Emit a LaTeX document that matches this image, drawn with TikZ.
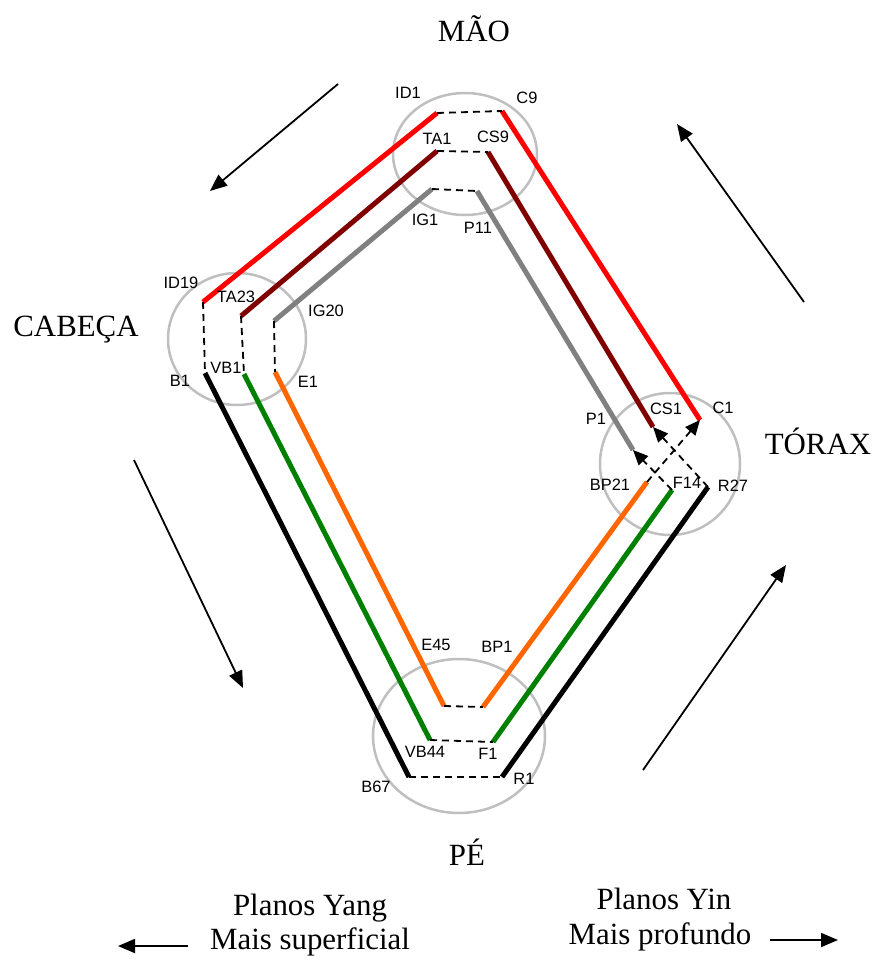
\documentclass[tikz,border=0pt]{standalone}
\usepackage{fontspec}
\setmainfont{Liberation Serif}
\newfontfamily\ptfont{Liberation Sans}
\usetikzlibrary{arrows.meta}

\begin{document}
\begin{tikzpicture}[x=1bp,y=-1bp,
  meridian/.style={line width=5bp},
  link/.style={line width=1.8bp,dash pattern=on 7bp off 5bp},
  linkarrow/.style={link,-{Triangle[length=15bp,width=13bp]}},
  zone/.style={draw=black!25,line width=2.5bp},
  flow/.style={line width=1.8bp,-{Triangle[length=17bp,width=14bp]}},
  pt/.style={font=\ptfont\fontsize{16.5}{18}\selectfont,inner sep=0pt},
  region/.style={font=\fontsize{31}{34}\selectfont,inner sep=0pt}]
\useasboundingbox (0,0) rectangle (879,965);
\definecolor{darkred}{RGB}{128,0,0}
\definecolor{meridgreen}{RGB}{0,128,0}
\definecolor{meridorange}{RGB}{255,102,0}
% zonas
\draw[zone] (465,154) ellipse [x radius=72, y radius=61];
\draw[zone] (237,339) ellipse [x radius=69, y radius=66];
\draw[zone] (670,464) ellipse [x radius=70, y radius=71];
\draw[zone] (459,736) ellipse [x radius=86, y radius=77];
% pontos
\coordinate (ID1) at (437,113); \coordinate (C9) at (502,111);
\coordinate (TA1) at (437,151); \coordinate (CS9) at (488,152);
\coordinate (IG1) at (432,189); \coordinate (P11) at (477,191);
\coordinate (ID19) at (203,302); \coordinate (B1) at (205,373);
\coordinate (TA23) at (241,316); \coordinate (VB1) at (244,374);
\coordinate (IG20) at (274,321); \coordinate (E1) at (275,372);
\coordinate (E45) at (444,706); \coordinate (BP1) at (483,707);
\coordinate (VB44) at (430,740); \coordinate (F1) at (493,742);
\coordinate (B67) at (409,777); \coordinate (R1) at (502,777);
\coordinate (P1) at (633,450); \coordinate (CS1) at (653,427); \coordinate (C1) at (700,420);
\coordinate (BP21) at (647,482); \coordinate (F14) at (672,490); \coordinate (R27) at (708,487);
% meridianos
\draw[meridian,red] (ID1) -- (ID19);
\draw[meridian,red] (C9) -- (C1);
\draw[meridian,darkred] (TA1) -- (TA23);
\draw[meridian,darkred] (CS9) -- (CS1);
\draw[meridian,gray] (IG1) -- (IG20);
\draw[meridian,gray] (P11) -- (P1);
\draw[meridian,black] (B1) -- (B67);
\draw[meridian,black] (R1) -- (R27);
\draw[meridian,meridgreen] (VB1) -- (VB44);
\draw[meridian,meridgreen] (F1) -- (F14);
\draw[meridian,meridorange] (E1) -- (E45);
\draw[meridian,meridorange] (BP1) -- (BP21);
% ligacoes
\draw[link] (ID1) -- (C9);
\draw[link] (TA1) -- (CS9);
\draw[link] (IG1) -- (P11);
\draw[link] (ID19) -- (B1);
\draw[link] (TA23) -- (VB1);
\draw[link] (IG20) -- (E1);
\draw[link] (E45) -- (BP1);
\draw[link] (VB44) -- (F1);
\draw[link] (B67) -- (R1);
\draw[linkarrow] (BP21) -- (C1);
\draw[linkarrow] (F14) -- (P1);
\draw[linkarrow] (R27) -- (CS1);
% nomes dos pontos
\node[pt] (lID1) at (408,93) {ID1};
\node[pt] (lC9) at (527,98) {C9};
\node[pt] (lTA1) at (437,139) {TA1};
\node[pt] (lCS9) at (493,137) {CS9};
\node[pt] (lIG1) at (425,220) {IG1};
\node[pt] (lP11) at (478,228) {P11};
\node[pt] (lID19) at (181,283) {ID19};
\node[pt] (lTA23) at (236,297) {TA23};
\node[pt] (lIG20) at (326,311) {IG20};
\node[pt] (lB1) at (180,381) {B1};
\node[pt] (lVB1) at (226,368) {VB1};
\node[pt] (lE1) at (308,382) {E1};
\node[pt] (lP1) at (596,419) {P1};
\node[pt] (lCS1) at (666,409) {CS1};
\node[pt] (lC1) at (723,408) {C1};
\node[pt] (lBP21) at (610,485) {BP21};
\node[pt] (lF14) at (687,483) {F14};
\node[pt] (lR27) at (733,486) {R27};
\node[pt] (lE45) at (436,645) {E45};
\node[pt] (lBP1) at (497,647) {BP1};
\node[pt] (lVB44) at (425,752) {VB44};
\node[pt] (lF1) at (488,754) {F1};
\node[pt] (lB67) at (376,787) {B67};
\node[pt] (lR1) at (524,779) {R1};
% regioes
\node[region] (mao) at (474,29) {MÃO};
\node[region] (cabeca) at (76,330) {CABEÇA};
\node[region] (torax) at (818,441) {TÓRAX};
\node[region] (pe) at (467,852) {PÉ};
\node[region] (yang) at (310,908) {Planos Yang};
\node[region] (yangsub) at (310,942) {Mais superficial};
\node[region] (yin) at (664,899) {Planos Yin};
\node[region] (yinsub) at (660,937) {Mais profundo};
% sentidos
\coordinate (a1) at (338,84);  \coordinate (b1) at (210,191);
\coordinate (a2) at (804,302); \coordinate (b2) at (677,124);
\coordinate (a3) at (134,460); \coordinate (b3) at (243,688);
\coordinate (a4) at (643,770); \coordinate (b4) at (786,565);
\coordinate (a5) at (188,946); \coordinate (b5) at (118,946);
\coordinate (a6) at (770,940); \coordinate (b6) at (838,940);
\draw[flow] (a1) -- (b1);
\draw[flow] (a2) -- (b2);
\draw[flow] (a3) -- (b3);
\draw[flow] (a4) -- (b4);
\draw[flow] (a5) -- (b5);
\draw[flow] (a6) -- (b6);
\end{tikzpicture}
\end{document}
